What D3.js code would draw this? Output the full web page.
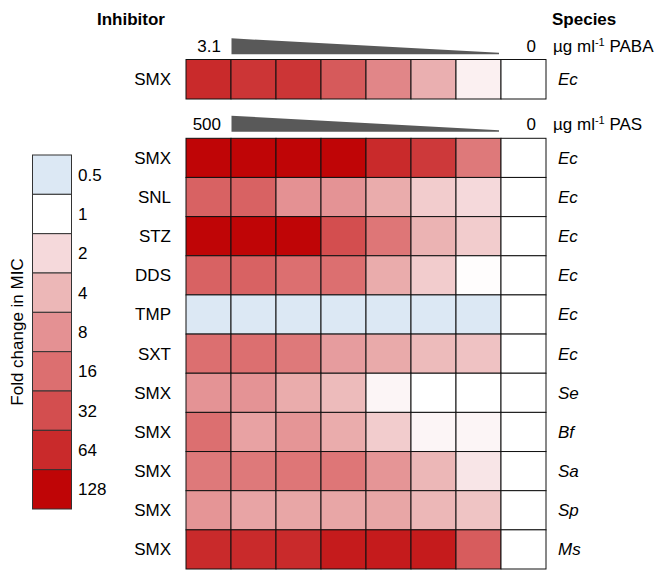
<!DOCTYPE html>
<html>
<head>
<meta charset="utf-8">
<script src="https://cdn.jsdelivr.net/npm/d3@7"></script>
<style>
  html, body { margin: 0; padding: 0; background: #fff; }
  text { font-family: "Liberation Sans", Arial, Helvetica, sans-serif; fill: #000; }
</style>
</head>
<body>
<svg id="chart" width="666" height="570"></svg>
<script>
// ---------------- DATA ----------------
const legendLabels = ["0.5", "1", "2", "4", "8", "16", "32", "64", "128"];
const legendFolds  = [0.5, 1, 2, 4, 8, 16, 32, 64, 128];
const legendColors = ["#dce8f4", "#ffffff", "#f5d9db", "#ecb7b7", "#e49193", "#dc6f70", "#d34e4f", "#c92a2b", "#bf0506"];

// PABA block (top)
const pabaInhibitors = ["SMX"];
const pabaSpecies    = ["Ec"];
const pabaValues = [
  [64, 52, 52, 25, 10, 4.6, 1.32, 1]
];
const pabaMax = "3.1", pabaMin = "0";

// PAS block (bottom)
const pasInhibitors = ["SMX", "SNL", "STZ", "DDS", "TMP", "SXT", "SMX", "SMX", "SMX", "SMX", "SMX"];
const pasSpecies    = ["Ec", "Ec", "Ec", "Ec", "Ec", "Ec", "Se", "Bf", "Sa", "Sp", "Ms"];
const pasValues = [
  [128, 128, 128, 128, 64, 48, 13, 1],
  [21, 21, 8, 7.7, 4.9, 2.6, 2, 1],
  [128, 128, 128, 32, 14, 4.3, 2.6, 1],
  [21, 21, 16, 16, 4.9, 2.6, 1.03, 1],
  [0.5, 0.5, 0.5, 0.5, 0.5, 0.5, 0.5, 1],
  [16, 16, 13, 6.5, 5.1, 3.7, 3.2, 1],
  [7.7, 7.7, 4.9, 3.7, 1.19, 1, 1, 1],
  [16, 5.9, 7.5, 4.9, 2.6, 1.19, 1.19, 1],
  [13, 13, 14, 14, 7.5, 4, 1.6, 1],
  [7.5, 5.7, 5.5, 5.5, 5.5, 4, 3.1, 1],
  [64, 64, 64, 84, 84, 84, 24, 1]
];
const pasMax = "500", pasMin = "0";
const columns = [0, 1, 2, 3, 4, 5, 6, 7];

// ---------------- CHART ----------------
const svg = d3.select("#chart");
const FS = 17;

const color = d3.scaleLog().base(2).domain(legendFolds).range(legendColors)
  .interpolate(d3.interpolateRgb).clamp(true);

const x = d3.scaleBand().domain(columns).range([186, 546]).paddingInner(0).paddingOuter(0);

// Headers
svg.append("text").attr("x", 97).attr("y", 25).attr("font-size", FS).attr("font-weight", "bold").text("Inhibitor");
svg.append("text").attr("x", 552).attr("y", 25).attr("font-size", FS).attr("font-weight", "bold").text("Species");

function drawBlock(values, inhibitors, species, yTop, yBottom, maxLab, minLab, unitName, triTop) {
  const y = d3.scaleBand().domain(d3.range(values.length)).range([yTop, yBottom]);
  const g = svg.append("g");
  values.forEach((row, ri) => {
    g.selectAll(null).data(row).enter().append("rect")
      .attr("x", (d, ci) => x(columns[ci]))
      .attr("y", y(ri))
      .attr("width", x.bandwidth())
      .attr("height", y.bandwidth())
      .attr("fill", d => color(d))
      .attr("stroke", "#111")
      .attr("stroke-width", 1);
  });
  g.selectAll(null).data(inhibitors).enter().append("text")
    .attr("x", 171).attr("y", (d, i) => y(i) + y.bandwidth() / 2)
    .attr("dy", "0.35em").attr("text-anchor", "end").attr("font-size", FS).text(d => d);
  g.selectAll(null).data(species).enter().append("text")
    .attr("x", 558).attr("y", (d, i) => y(i) + y.bandwidth() / 2)
    .attr("dy", "0.35em").attr("font-style", "italic").attr("font-size", FS).text(d => d);

  // concentration gradient triangle
  const tx0 = x(columns[1]) + 0.5, tx1 = x(columns[7]) - 2;
  const triH = 16;
  svg.append("path")
    .attr("d", `M${tx0},${triTop} L${tx1},${triTop + triH - 1.5} L${tx1},${triTop + triH} L${tx0},${triTop + triH} Z`)
    .attr("fill", "#595959");
  const base = triTop + triH - 2;
  svg.append("text").attr("x", 221).attr("y", base).attr("text-anchor", "end").attr("font-size", FS).text(maxLab);
  svg.append("text").attr("x", 536).attr("y", base).attr("text-anchor", "end").attr("font-size", FS).text(minLab);
  const u = svg.append("text").attr("x", 553).attr("y", base).attr("font-size", FS);
  u.append("tspan").text("µg ml");
  u.append("tspan").attr("dy", -6).attr("font-size", 11).text("-1");
  u.append("tspan").attr("dy", 6).text(" " + unitName);
}

drawBlock(pabaValues, pabaInhibitors, pabaSpecies, 59.5, 99, pabaMax, pabaMin, "PABA", 38.3);
drawBlock(pasValues, pasInhibitors, pasSpecies, 138.3, 569, pasMax, pasMin, "PAS", 115.7);

// Legend
const ly = d3.scaleBand().domain(legendLabels).range([155, 509]);
const lg = svg.append("g");
lg.selectAll("rect").data(legendLabels).enter().append("rect")
  .attr("x", 32.5).attr("y", d => ly(d)).attr("width", 39).attr("height", ly.bandwidth())
  .attr("fill", (d, i) => legendColors[i]).attr("stroke", "#333").attr("stroke-width", 1);
lg.selectAll("text").data(legendLabels).enter().append("text")
  .attr("x", 78).attr("y", d => ly(d) + ly.bandwidth() / 2).attr("dy", "0.35em")
  .attr("font-size", FS).text(d => d);
svg.append("text")
  .attr("transform", `translate(23,332) rotate(-90)`)
  .attr("text-anchor", "middle").attr("font-size", FS).text("Fold change in MIC");
</script>
</body>
</html>
